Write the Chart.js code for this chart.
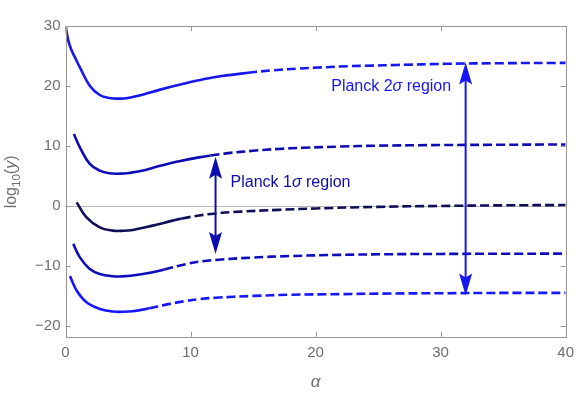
<!DOCTYPE html>
<html><head><meta charset="utf-8">
<script src="https://cdn.jsdelivr.net/npm/chart.js@4"></script>
<style>html,body{margin:0;padding:0;background:#fff;}#wrap{width:581px;height:394px;}</style>
</head><body><div id="wrap"><canvas id="c" width="581" height="394"></canvas></div>
<script>
// ---- data ----
const alpha1 = [0.02,0.22,0.49,0.75,1.15,1.94,2.74,3.5,4.33,5.1,5.91,7.5,9.09,10.67,12.5,14.6,16.5,18.6,20.5,22.6,24.5,26.5,30.5,35,40];
const logY1  = [29.9,27.6,25.9,24.8,23.1,20.05,18.5,18.0,17.9,18.05,18.42,19.35,20.2,20.95,21.65,22.2,22.6,22.9,23.1,23.3,23.4,23.5,23.7,23.8,23.85];
const alpha2 = [0.67,1.15,1.94,2.74,3.5,4.33,5.1,5.91,7.5,9.09,10.67,11.6,13,15,17,19,22,25,30,35,40];
const logY2  = [12.0,9.77,7.0,5.88,5.45,5.38,5.5,5.77,6.65,7.45,8.1,8.4,8.8,9.2,9.5,9.7,9.9,10.05,10.15,10.2,10.25];
const alpha3 = [0.89,1.68,2.74,3.79,4.5,5.38,6.97,8.56,9.3,10.67,12,14,17,20,25,30,35,40];
const logY3  = [0.6,-1.9,-3.57,-4.12,-4.15,-4.0,-3.28,-2.45,-2.1,-1.6,-1.25,-0.95,-0.65,-0.42,-0.15,0.0,0.1,0.15];
const alpha4 = [0.62,1.15,1.94,2.74,3.79,4.5,5.38,6.97,7.9,9.62,10.67,12,15,18,22,26,30,35,40];
const logY4  = [-6.33,-8.57,-10.5,-11.33,-11.72,-11.75,-11.6,-11.07,-10.6,-9.7,-9.3,-9.0,-8.6,-8.35,-8.15,-8.05,-8.0,-7.97,-7.95];
const alpha5 = [0.36,0.89,1.68,2.74,3.79,4.5,5.38,6.71,8.03,9.62,10.67,12,15,18,22,26,30,35,40];
const logY5  = [-11.7,-14.1,-16.07,-17.17,-17.6,-17.65,-17.57,-17.07,-16.45,-15.85,-15.55,-15.3,-15.0,-14.8,-14.7,-14.6,-14.55,-14.5,-14.5];
const solidUntil = [14.6, 11.6, 9.3, 7.9, 6.71];   // alpha where each curve turns dashed
const xTicks = [0,10,20,30,40];
const yTicks = [-20,-10,0,10,20,30];
const arrowAlpha  = [12, 32];
const arrowTop    = [8.2, 23.9];
const arrowBottom = [-8.0, -14.95];
const labelAlpha  = [13.2, 21.25];
const labelLogY   = [3.93, 19.9];
const labelSigmaN = ['1', '2'];

// ---- styles ----
const curveColors = ['rgb(22,22,240)','rgb(12,12,178)','rgb(14,14,88)','rgb(12,12,190)','rgb(22,22,252)'];
const arrowColors = ['rgb(12,12,178)','rgb(22,22,240)'];
const GRAY = 'rgb(110,110,110)';
const FRAME = 'rgb(150,150,150)';
const FONT = '"Liberation Sans", Arial, sans-serif';

const series = [[alpha1,logY1],[alpha2,logY2],[alpha3,logY3],[alpha4,logY4],[alpha5,logY5]];
const datasets = series.map(([a,v],i)=>({
  data: a.map((x,j)=>({x:x,y:v[j]})),
  borderColor: curveColors[i],
  borderWidth: 2.6,
  pointRadius: 0,
  fill: false,
  tension: 0.4,
  segment: { borderDash: ctx => ctx.p0.parsed.x >= solidUntil[i]-1e-9 ? [9,4] : undefined }
}));

function richText(ctx, parts, x, y, size) {
  let cx = x;
  for (const p of parts) {
    ctx.font = (p.italic ? 'italic ' : '') + (p.sub ? size*0.72 : size) + 'px ' + FONT;
    ctx.fillText(p.t, cx, y + (p.sub ? size*0.3 : 0));
    cx += ctx.measureText(p.t).width;
  }
  return cx - x;
}
function measureRich(ctx, parts, size) {
  let w = 0;
  for (const p of parts) {
    ctx.font = (p.italic ? 'italic ' : '') + (p.sub ? size*0.72 : size) + 'px ' + FONT;
    w += ctx.measureText(p.t).width;
  }
  return w;
}
function head(ctx, x, yTip, dir) { // dir=-1 points up, +1 points down
  const L = 22, w = 6.5, n = 4;
  ctx.beginPath();
  ctx.moveTo(x, yTip);
  ctx.lineTo(x + w, yTip - dir*L);
  ctx.lineTo(x, yTip - dir*(L-n));
  ctx.lineTo(x - w, yTip - dir*L);
  ctx.closePath();
  ctx.fill();
}

const decor = {
  id: 'decor',
  beforeDatasetsDraw(chart) {
    const {ctx, chartArea:a, scales:{y}} = chart;
    ctx.save();
    ctx.strokeStyle = 'rgb(185,185,185)';
    ctx.lineWidth = 1;
    const y0 = Math.round(y.getPixelForValue(0)) + 0.5;
    ctx.beginPath(); ctx.moveTo(a.left, y0); ctx.lineTo(a.right, y0); ctx.stroke();
    ctx.restore();
  },
  afterDatasetsDraw(chart) {
    const {ctx, chartArea:a, scales:{x, y}} = chart;
    ctx.save();
    // frame
    ctx.strokeStyle = FRAME; ctx.lineWidth = 1;
    ctx.strokeRect(Math.round(a.left)+0.5, Math.round(a.top)+0.5, Math.round(a.right-a.left), Math.round(a.bottom-a.top));
    ctx.beginPath();
    for (const v of xTicks) {
      const px = Math.round(x.getPixelForValue(v)) + 0.5;
      ctx.moveTo(px, a.bottom); ctx.lineTo(px, a.bottom - 5);
      ctx.moveTo(px, a.top); ctx.lineTo(px, a.top + 5);
    }
    for (const v of yTicks) {
      const py = Math.round(y.getPixelForValue(v)) + 0.5;
      ctx.moveTo(a.left, py); ctx.lineTo(a.left + 5, py);
      ctx.moveTo(a.right, py); ctx.lineTo(a.right - 5, py);
    }
    ctx.stroke();
    // arrows
    arrowAlpha.forEach((av, i) => {
      const px = x.getPixelForValue(av);
      const yt = y.getPixelForValue(arrowTop[i]);
      const yb = y.getPixelForValue(arrowBottom[i]);
      ctx.strokeStyle = arrowColors[i]; ctx.fillStyle = arrowColors[i];
      ctx.lineWidth = 2;
      ctx.beginPath(); ctx.moveTo(px, yt + 10); ctx.lineTo(px, yb - 10); ctx.stroke();
      head(ctx, px, yt, -1);
      head(ctx, px, yb, 1);
    });
    // region labels
    ctx.textBaseline = 'middle'; ctx.textAlign = 'left';
    labelAlpha.forEach((av, i) => {
      ctx.fillStyle = arrowColors[i];
      richText(ctx, [{t:'Planck ' + labelSigmaN[i]},{t:'σ', italic:true},{t:' region'}],
        x.getPixelForValue(av), y.getPixelForValue(labelLogY[i]), 16);
    });
    // axis titles
    ctx.fillStyle = GRAY;
    ctx.textAlign = 'center'; ctx.textBaseline = 'middle';
    ctx.font = 'italic 17px ' + FONT;
    ctx.fillText('α', x.getPixelForValue(20), 382);
    const parts = [{t:'log'},{t:'10', sub:true},{t:'('},{t:'y', italic:true},{t:')'}];
    ctx.translate(12, y.getPixelForValue(4));
    ctx.rotate(-Math.PI/2);
    ctx.textAlign = 'left';
    const w = measureRich(ctx, parts, 16);
    richText(ctx, parts, -w/2, 0, 16);
    ctx.restore();
  }
};

const fmt = v => v < 0 ? '\u2212' + Math.abs(v) : String(v);

new Chart(document.getElementById('c'), {
  type: 'line',
  data: { datasets },
  plugins: [decor],
  options: {
    responsive: false, animation: false, devicePixelRatio: 1,
    layout: { padding: { top: 26, right: 11, left: 0, bottom: 0 } },
    plugins: { legend: { display: false }, tooltip: { enabled: false } },
    scales: {
      x: {
        type: 'linear', min: 0, max: 40,
        afterBuildTicks: s => { s.ticks = xTicks.map(v => ({value: v})); },
        afterFit: s => { s.height = 57.3; },
        grid: { display: false, drawTicks: false }, border: { display: false },
        ticks: { color: GRAY, font: { family: FONT, size: 15 }, padding: 7, maxRotation: 0, autoSkip: false, callback: fmt }
      },
      y: {
        type: 'linear', min: -21.8, max: 30,
        afterBuildTicks: s => { s.ticks = yTicks.map(v => ({value: v})); },
        afterFit: s => { s.width = 65.5; },
        grid: { display: false, drawTicks: false }, border: { display: false },
        ticks: { color: GRAY, font: { family: FONT, size: 15 }, padding: 5, autoSkip: false, callback: fmt }
      }
    }
  }
});
</script></body></html>
